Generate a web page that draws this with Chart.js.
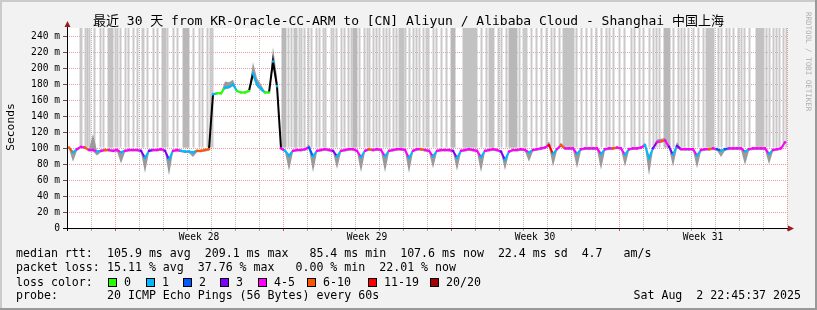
<!DOCTYPE html>
<html>
<head>
<meta charset="utf-8">
<script src="https://cdn.jsdelivr.net/npm/chart.js@4.4.1/dist/chart.umd.min.js"></script>
<style>
    html, body { margin: 0; padding: 0; background: #f2f2f2; }
    canvas { display: block; }
</style>
</head>
<body>
<canvas id="grafico-smokeping" width="817" height="310"></canvas>
<script>
// x axis is in hours since graph start (30 days = 720 h)
const weekLabels = ['Week 28', 'Week 29', 'Week 30', 'Week 31'];
const weekLabelHours = [132, 300, 468, 636];
const weekStartHours = [48, 216, 384, 552, 720];
const sampleStepHours = 4;
const sampleOffsetHours = 2;

// median rtt (ms), one value every 4 h, six per day
const medianRtt = [
    101, 95, 99, 102, 101, 98,
    98, 96, 97, 98, 98, 97,
    98, 95, 97, 98, 98, 98,
    97, 88, 97, 98, 98, 99,
    97, 86, 97, 98, 97, 96,
    96, 95, 97, 97, 98, 99,
    168, 169, 169, 176, 177, 180,
    172, 170, 170, 172, 194, 180,
    175, 170, 170, 209, 178, 100,
    97, 91, 97, 98, 98, 99,
    101, 90, 97, 98, 99, 98,
    97, 90, 97, 98, 99, 99,
    97, 89, 97, 99, 98, 99,
    98, 90, 97, 98, 99, 99,
    98, 88, 97, 99, 99, 98,
    97, 90, 97, 98, 98, 98,
    97, 88, 97, 98, 99, 98,
    97, 89, 97, 98, 99, 98,
    96, 85.4, 96, 98, 98, 99,
    98, 95, 98, 99, 100, 101,
    104, 93, 99, 104, 100, 100,
    100, 93, 99, 100, 100, 100,
    100, 93, 99, 100, 100, 101,
    100, 92, 99, 100, 100, 101,
    104, 88, 100, 108, 109, 110,
    102, 92, 103, 99, 99, 99,
    99, 91, 98, 99, 99, 100,
    99, 97, 99, 100, 100, 100,
    100, 96, 99, 100, 100, 100,
    100, 93, 98, 99, 100, 107.6
];

// lost pings out of 20 for each sample
const lostPings = [
    7, 1, 4, 4, 7, 4,
    4, 1, 4, 7, 4, 4,
    4, 1, 4, 4, 4, 4,
    3, 1, 3, 4, 4, 4,
    3, 1, 4, 4, 1, 1,
    1, 1, 7, 7, 7, 7,
    1, 0, 0, 1, 1, 1,
    0, 0, 0, 0, 1, 1,
    1, 0, 0, 1, 1, 4,
    1, 1, 4, 4, 4, 4,
    2, 1, 4, 4, 4, 4,
    3, 1, 4, 4, 4, 4,
    4, 1, 4, 7, 4, 4,
    4, 1, 4, 4, 4, 4,
    4, 1, 4, 4, 7, 4,
    4, 1, 4, 4, 4, 4,
    3, 1, 4, 4, 4, 4,
    4, 1, 4, 4, 4, 4,
    3, 1, 4, 4, 4, 4,
    4, 1, 4, 4, 4, 4,
    11, 1, 4, 7, 4, 4,
    4, 1, 4, 4, 4, 4,
    4, 1, 4, 4, 7, 4,
    4, 1, 4, 4, 4, 4,
    1, 1, 3, 4, 7, 4,
    3, 1, 3, 4, 4, 4,
    4, 1, 4, 4, 7, 4,
    2, 1, 2, 4, 4, 4,
    4, 1, 4, 4, 4, 4,
    4, 1, 4, 4, 4, 4
];

// smoke spread below / above the median (ms)
const smokeBelow = [
    2, 12, 2, 2, 2, 2,
    2, 5, 2, 2, 2, 2,
    2, 14, 2, 2, 2, 2,
    2, 19, 2, 2, 2, 2,
    2, 20, 2, 2, 2, 2,
    2, 6, 2, 2, 2, 2,
    2, 1, 1, 2, 2, 2,
    1, 1, 1, 1, 5, 3,
    3, 1, 1, 7, 5, 2,
    2, 19, 2, 2, 2, 2,
    2, 20, 2, 2, 2, 2,
    2, 16, 2, 2, 2, 2,
    2, 19, 2, 2, 2, 2,
    2, 20, 2, 2, 2, 2,
    2, 19, 2, 2, 2, 2,
    2, 15, 2, 2, 2, 2,
    2, 16, 2, 2, 2, 2,
    2, 19, 2, 2, 2, 2,
    2, 13, 2, 2, 2, 2,
    2, 12, 2, 2, 2, 2,
    2, 16, 2, 2, 2, 2,
    2, 18, 2, 2, 2, 2,
    2, 20, 2, 2, 2, 2,
    2, 15, 2, 2, 2, 2,
    2, 22, 2, 2, 2, 2,
    2, 15, 3, 2, 2, 2,
    2, 16, 2, 2, 2, 2,
    2, 8, 2, 2, 2, 2,
    2, 17, 2, 2, 2, 2,
    2, 13, 2, 2, 2, 2
];
const smokeAbove = [
    1, 1, 1, 1, 1, 1,
    20, 1, 1, 1, 1, 1,
    1, 1, 1, 1, 1, 1,
    1, 1, 1, 1, 1, 1,
    1, 1, 1, 1, 1, 1,
    1, 1, 1, 1, 1, 1,
    1, 1, 1, 8, 6, 6,
    1, 1, 1, 2, 14, 8,
    5, 1, 2, 18, 12, 2,
    1, 1, 1, 1, 1, 1,
    4, 1, 1, 1, 1, 1,
    1, 1, 1, 1, 1, 1,
    1, 1, 1, 1, 1, 1,
    1, 1, 1, 1, 1, 1,
    1, 1, 1, 1, 1, 1,
    1, 1, 1, 1, 1, 1,
    1, 1, 1, 1, 1, 1,
    1, 1, 1, 1, 1, 1,
    1, 1, 1, 1, 1, 1,
    1, 1, 1, 1, 1, 1,
    5, 1, 1, 3, 1, 1,
    1, 1, 1, 1, 1, 1,
    1, 1, 1, 1, 1, 1,
    1, 1, 1, 1, 1, 1,
    3, 1, 1, 3, 3, 3,
    2, 1, 5, 1, 1, 1,
    1, 1, 1, 1, 1, 1,
    1, 1, 1, 1, 1, 1,
    1, 1, 1, 1, 1, 1,
    1, 1, 1, 1, 1, 1
];

// hours where pings went above the top of the graph: [from, to, how many]
const outlierSpans = [
    [13, 14, 1], [18, 18, 1], [20, 20, 2], [22, 22, 1], [27, 27, 1], [33, 33, 1], [36, 36, 1],
    [41, 45, 2], [48, 48, 1], [50, 50, 1], [53, 53, 1], [58, 58, 1], [61, 61, 1], [66, 66, 1],
    [70, 70, 1], [75, 76, 1], [80, 80, 1], [86, 86, 1], [90, 90, 1], [95, 98, 2], [100, 100, 1],
    [106, 106, 1], [110, 110, 1], [116, 121, 3], [126, 126, 1], [132, 132, 1], [135, 135, 1],
    [140, 140, 1], [143, 143, 1], [145, 145, 1],
    [215, 218, 3], [221, 221, 1], [224, 224, 1], [227, 229, 2], [232, 232, 1], [234, 234, 1],
    [237, 237, 1], [241, 241, 1], [244, 244, 1], [249, 249, 1], [252, 252, 1], [256, 256, 1],
    [258, 258, 1], [264, 264, 1], [266, 266, 1], [269, 269, 1], [274, 274, 1], [277, 277, 1],
    [281, 281, 1], [284, 284, 1], [286, 289, 3], [292, 292, 1], [297, 297, 1], [300, 300, 1],
    [302, 302, 1], [306, 306, 1], [309, 309, 1], [312, 312, 1], [316, 316, 1], [319, 319, 1],
    [322, 322, 1], [326, 326, 1], [329, 329, 1], [332, 336, 2], [338, 338, 1], [342, 342, 1],
    [346, 346, 1], [349, 349, 1], [352, 352, 1], [356, 356, 1], [359, 359, 1],
    [361, 361, 1], [366, 366, 1], [369, 369, 1], [374, 374, 1], [379, 379, 1], [384, 387, 3],
    [396, 409, 2], [414, 414, 1], [419, 419, 1], [422, 426, 2], [431, 431, 1], [434, 434, 1],
    [439, 439, 1], [442, 449, 3], [452, 452, 1], [456, 459, 1], [464, 464, 1], [469, 469, 1],
    [474, 474, 1], [479, 479, 1], [484, 484, 1], [487, 487, 1], [492, 492, 1], [496, 506, 2],
    [509, 509, 1], [514, 514, 1], [519, 519, 1], [524, 524, 1], [529, 529, 1], [534, 534, 1],
    [539, 539, 1],
    [542, 542, 1], [546, 546, 1], [552, 552, 1], [557, 557, 1], [564, 564, 1], [567, 567, 1],
    [572, 572, 1], [576, 576, 1], [582, 582, 1], [586, 586, 1], [589, 589, 1], [592, 592, 1],
    [597, 602, 3], [606, 606, 1], [611, 611, 1], [614, 614, 1], [617, 617, 1], [621, 621, 1],
    [626, 626, 1], [631, 631, 1], [636, 636, 1], [639, 646, 2], [651, 651, 1], [654, 654, 1],
    [659, 659, 1], [662, 662, 1], [666, 666, 1], [671, 671, 1], [674, 674, 1], [677, 677, 1],
    [682, 682, 1], [689, 696, 2], [699, 699, 1], [702, 702, 1], [706, 706, 1], [709, 709, 1],
    [712, 712, 1], [716, 716, 1], [719, 719, 1]
];

const lossLegend = ['0', '1', '2', '3', '4-5', '6-10', '11-19', '20/20'];
const lossColors = ['#26ff00', '#00b8ff', '#0059ff', '#7e00ff', '#ff00ff', '#ff5500', '#ff0000', '#a10000'];

const titleText = '最近 30 天 from KR-Oracle-CC-ARM to [CN] Aliyun / Alibaba Cloud - Shanghai 中国上海';
const statLines = [
    ['median rtt:', '105.9 ms avg  209.1 ms max   85.4 ms min  107.6 ms now  22.4 ms sd  4.7   am/s'],
    ['packet loss:', '15.11 % avg  37.76 % max   0.00 % min  22.01 % now'],
    ['loss color:', ''],
    ['probe:', '20 ICMP Echo Pings (56 Bytes) every 60s']
];
const dateText = 'Sat Aug  2 22:45:37 2025';

const yMax = 251;
const outlierBase = 101;
const monoFont = '"DejaVu Sans Mono", "Noto Sans CJK SC", monospace';

document.addEventListener("DOMContentLoaded", () => {
    inicializarGrafico();
});

function lossBucket(n) {
    if (n <= 3) return n;
    if (n <= 5) return 4;
    if (n <= 10) return 5;
    if (n <= 19) return 6;
    return 7;
}

const smokepingDecor = {
    id: 'smokepingDecor',
    beforeDraw(chart) {
        const { ctx, chartArea: a } = chart;
        ctx.save();
        ctx.fillStyle = '#f2f2f2';
        ctx.fillRect(0, 0, chart.width, chart.height);
        ctx.fillStyle = '#ffffff';
        ctx.fillRect(a.left, a.top, a.right - a.left, a.bottom - a.top);
        ctx.restore();
    },
    afterDraw(chart) {
        const { ctx, chartArea: a } = chart;
        ctx.save();

        // axes with arrows
        ctx.strokeStyle = '#000';
        ctx.lineWidth = 1;
        ctx.beginPath();
        ctx.moveTo(a.left - 4, a.bottom + 0.5);
        ctx.lineTo(a.right + 2, a.bottom + 0.5);
        ctx.moveTo(a.left + 0.5, a.bottom + 3);
        ctx.lineTo(a.left + 0.5, a.top - 2);
        ctx.stroke();
        ctx.fillStyle = '#9b1b1b';
        ctx.beginPath();
        ctx.moveTo(a.right + 7, a.bottom + 0.5);
        ctx.lineTo(a.right + 1, a.bottom - 2.5);
        ctx.lineTo(a.right + 1, a.bottom + 3.5);
        ctx.fill();
        ctx.beginPath();
        ctx.moveTo(a.left + 0.5, a.top - 7);
        ctx.lineTo(a.left - 2.5, a.top - 1);
        ctx.lineTo(a.left + 3.5, a.top - 1);
        ctx.fill();

        // title
        ctx.fillStyle = '#000';
        ctx.font = '13px ' + monoFont;
        ctx.textAlign = 'center';
        ctx.textBaseline = 'middle';
        ctx.fillText(titleText, chart.width / 2, 21.5);

        // y title
        ctx.save();
        ctx.translate(11, 127);
        ctx.rotate(-Math.PI / 2);
        ctx.font = '11.3px ' + monoFont;
        ctx.fillText('Seconds', 0, 0);
        ctx.restore();

        // rrdtool credit
        ctx.save();
        ctx.translate(808, 12);
        ctx.rotate(Math.PI / 2);
        ctx.textAlign = 'left';
        ctx.fillStyle = '#b0b0b0';
        ctx.font = '7.5px ' + monoFont;
        ctx.fillText('RRDTOOL / TOBI OETIKER', 0, 0);
        ctx.restore();

        // legend text
        ctx.font = '11.6px ' + monoFont;
        ctx.textAlign = 'left';
        ctx.fillStyle = '#000';
        const lineY = [254, 268, 282.5, 296];
        statLines.forEach(([head, rest], i) => {
            ctx.fillText(head, 16, lineY[i]);
            if (rest) ctx.fillText(rest, 107, lineY[i]);
        });
        const boxX = [108, 146, 183, 220, 258, 307, 368, 430];
        lossLegend.forEach((lab, i) => {
            ctx.fillStyle = lossColors[i];
            ctx.fillRect(boxX[i], 278, 9, 9);
            ctx.strokeStyle = '#000';
            ctx.strokeRect(boxX[i] + 0.5, 278.5, 8, 8);
            ctx.fillStyle = '#000';
            ctx.fillText(lab, boxX[i] + 16, lineY[2]);
        });
        ctx.textAlign = 'right';
        ctx.fillText(dateText, 801, lineY[3]);

        // 3d frame
        ctx.fillStyle = '#cbcbcb';
        ctx.fillRect(0, 0, chart.width, 2);
        ctx.fillRect(0, 0, 2, chart.height);
        ctx.fillStyle = '#999999';
        ctx.fillRect(0, chart.height - 2, chart.width, 2);
        ctx.fillRect(chart.width - 2, 0, 2, chart.height);
        ctx.restore();
    }
};

function inicializarGrafico() {
    const ctx = document.getElementById('grafico-smokeping');
    const sampleHours = medianRtt.map((_, i) => sampleOffsetHours + i * sampleStepHours);

    const medianPts = medianRtt.map((v, i) => ({ x: sampleHours[i], y: v }));
    const smokeHiPts = medianRtt.map((v, i) => ({ x: sampleHours[i], y: v + smokeAbove[i] }));
    const smokeLoPts = medianRtt.map((v, i) => ({ x: sampleHours[i], y: v - smokeBelow[i] }));

    const outlierBars = [];
    outlierSpans.forEach(([from, to, level]) => {
        for (let h = from; h <= to; h++) {
            outlierBars.push({ x: h + 0.5, y: [outlierBase, yMax], level: level });
        }
    });
    const outlierShades = ['#ffffff', '#c9c9c9', '#c2c2c2', '#b8b8b8'];
    const colorPunto = c => lossColors[lossBucket(lostPings[c.dataIndex])];

    const xTicks = [];
    for (let h = 0; h <= 720; h += 24) xTicks.push(h);
    weekLabelHours.forEach(h => xTicks.push(h));

    const minorGrid = 'rgba(140,140,140,0.6)';
    const majorGrid = 'rgba(215,90,90,0.6)';
    const axisFont = { family: monoFont, size: 9.6 };

    new Chart(ctx, {
        type: 'line',
        data: {
            datasets: [
                {
                    label: 'median',
                    data: medianPts,
                    borderColor: '#ff00ff',
                    borderWidth: 2,
                    pointRadius: 1.3,
                    pointBorderWidth: 0,
                    pointBackgroundColor: colorPunto,
                    fill: false,
                    segment: {
                        borderColor: c => {
                            const a = c.p0.parsed.y, b = c.p1.parsed.y;
                            if (Math.abs(a - b) > 20) return '#000000';
                            return lossColors[lossBucket(lostPings[c.p0DataIndex])];
                        }
                    }
                },
                {
                    label: 'smoke hi',
                    data: smokeHiPts,
                    borderWidth: 0,
                    pointRadius: 0,
                    backgroundColor: '#9a9a9a',
                    fill: '+1'
                },
                {
                    label: 'smoke lo',
                    data: smokeLoPts,
                    borderWidth: 0,
                    pointRadius: 0,
                    fill: false
                },
                {
                    type: 'bar',
                    label: 'outliers',
                    data: outlierBars,
                    backgroundColor: c => outlierShades[c.raw ? c.raw.level : 1],
                    borderWidth: 0,
                    barThickness: 2,
                    inflateAmount: 0,
                    grouped: false
                }
            ]
        },
        options: {
            responsive: false,
            animation: false,
            devicePixelRatio: 1,
            layout: { padding: { left: 0, right: 30, top: 28, bottom: 62 } },
            plugins: {
                legend: { display: false },
                tooltip: { enabled: false },
                title: { display: false }
            },
            scales: {
                x: {
                    type: 'linear',
                    min: 0,
                    max: 720,
                    offset: false,
                    z: 1,
                    afterBuildTicks: s => { s.ticks = xTicks.map(v => ({ value: v })); },
                    afterFit: s => { s.height = 20; },
                    grid: {
                        offset: false,
                        lineWidth: 1,
                        tickLength: 3,
                        color: c => {
                            const v = c.tick.value;
                            if (weekLabelHours.includes(v)) return 'transparent';
                            return weekStartHours.includes(v) ? majorGrid : minorGrid;
                        },
                        tickColor: c => {
                            const v = c.tick.value;
                            if (weekLabelHours.includes(v)) return 'transparent';
                            return weekStartHours.includes(v) ? '#d05050' : '#a0a0a0';
                        }
                    },
                    border: { display: false, dash: [1, 1] },
                    ticks: {
                        autoSkip: false,
                        maxRotation: 0,
                        padding: 1,
                        color: '#000',
                        font: axisFont,
                        callback: v => {
                            const i = weekLabelHours.indexOf(v);
                            return i >= 0 ? weekLabels[i] : '';
                        }
                    }
                },
                y: {
                    min: 0,
                    max: yMax,
                    z: 1,
                    afterBuildTicks: s => {
                        const t = [];
                        for (let v = 0; v <= 250; v += 10) t.push({ value: v });
                        s.ticks = t;
                    },
                    afterFit: s => { s.width = 67; },
                    grid: {
                        lineWidth: 1,
                        tickLength: 4,
                        color: c => (c.tick.value % 20 === 0 ? majorGrid : minorGrid),
                        tickColor: c => (c.tick.value % 20 === 0 ? '#555' : 'transparent')
                    },
                    border: { display: false, dash: [1, 1] },
                    ticks: {
                        padding: 3,
                        color: '#000',
                        font: axisFont,
                        callback: v => (v % 20 !== 0 ? '' : (v === 0 ? '0' : v + ' m'))
                    }
                }
            }
        },
        plugins: [smokepingDecor]
    });
}
</script>
</body>
</html>
